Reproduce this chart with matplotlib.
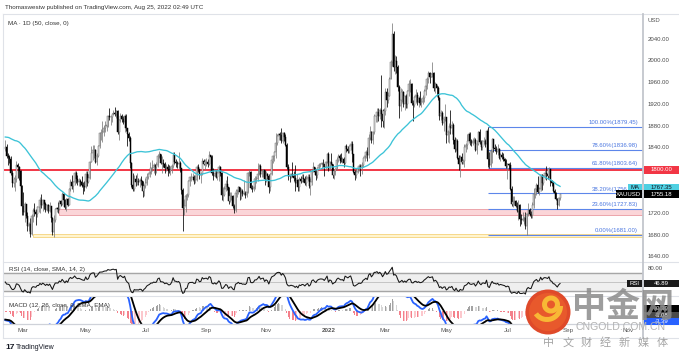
import numpy as np
import pandas as pd
import matplotlib
matplotlib.use("Agg")
import matplotlib.pyplot as plt
from matplotlib import transforms
from matplotlib.patches import Rectangle, Circle, Wedge

plt.rcParams['font.family'] = ['Liberation Sans', 'DejaVu Sans']
CJK = ['Noto Sans CJK SC', 'DejaVu Sans']

# ---------------------------------------------------------------- data
# daily closes before the visible window (Dec 1 2020 - Feb 9 2021), used only to seed the indicators
warmup_close = [1815, 1831, 1841, 1839, 1863, 1871, 1838, 1837, 1839, 1828, 1855, 1864, 1886, 1881, 1871, 1859,
                1874, 1877, 1877, 1876, 1878, 1893, 1895,
                1895, 1944, 1950, 1918, 1913, 1850, 1844, 1855, 1846, 1851, 1828, 1840, 1840, 1871, 1870, 1856,
                1856, 1850, 1843, 1843, 1848,
                1862, 1837, 1835, 1793, 1814, 1833, 1838]

first_day = '2021-02-10'   # first visible daily bar (XAUUSD, business days)

close_2021 = [
    1842, 1825, 1824, 1819, 1795, 1775, 1775, 1784, 1809, 1806, 1797, 1770, 1734,
    1723, 1737, 1715, 1697, 1700, 1683, 1716, 1726, 1722, 1719, 1731, 1731, 1745, 1735, 1745, 1738, 1727, 1735, 1725, 1733, 1712, 1685, 1708,
    1728, 1729, 1728, 1743, 1737, 1756, 1744, 1732, 1746, 1736, 1764, 1777, 1770, 1778, 1794, 1783, 1777, 1780, 1777, 1773, 1770, 1769,
    1792, 1778, 1785, 1815, 1831, 1836, 1837, 1815, 1826, 1843, 1867, 1868, 1869, 1877, 1881, 1881, 1898, 1896, 1896, 1903, 1905,
    1903, 1908, 1870, 1891, 1898, 1893, 1888, 1898, 1877, 1866, 1859, 1812, 1773, 1764, 1783, 1778, 1779, 1777, 1781, 1779, 1761, 1770,
    1776, 1787, 1792, 1796, 1803, 1803, 1808, 1806, 1808, 1825, 1829, 1812, 1812, 1810, 1803, 1806, 1802, 1797, 1799, 1807, 1828, 1814,
    1813, 1810, 1812, 1804, 1763, 1729, 1733, 1752, 1753, 1779, 1786, 1786, 1787, 1781, 1781, 1805, 1802, 1791, 1793, 1817, 1810, 1814,
    1815, 1810, 1827, 1823, 1794, 1789, 1795, 1787, 1794, 1805, 1794, 1754, 1754, 1764, 1774, 1768, 1743, 1751, 1751, 1734, 1726, 1757,
    1761, 1769, 1760, 1762, 1756, 1757, 1754, 1760, 1794, 1796, 1767, 1765, 1769, 1783, 1783, 1792, 1807, 1793, 1798, 1800, 1783,
    1793, 1788, 1769, 1792, 1818, 1825, 1832, 1849, 1862, 1865, 1864, 1852, 1868, 1860, 1846, 1805, 1789, 1788, 1792, 1788, 1785, 1775,
    1781, 1768, 1783, 1779, 1785, 1783, 1775, 1783, 1787, 1771, 1777, 1799, 1805, 1796, 1790, 1803, 1808, 1811, 1811, 1810, 1805, 1815, 1829]
high_2021 = [
    1855, 1848, 1830, 1828, 1825, 1800, 1787, 1790, 1816, 1813, 1807, 1799, 1773,
    1760, 1740, 1738, 1723, 1704, 1712, 1719, 1730, 1739, 1728, 1734, 1740, 1750, 1755, 1747, 1744, 1741, 1738, 1738, 1740, 1733, 1714, 1717,
    1730, 1732, 1740, 1745, 1744, 1759, 1757, 1746, 1748, 1748, 1766, 1784, 1790, 1780, 1797, 1798, 1790, 1785, 1784, 1788, 1778, 1780,
    1798, 1798, 1793, 1817, 1843, 1845, 1845, 1839, 1830, 1845, 1869, 1875, 1890, 1882, 1890, 1887, 1900, 1913, 1900, 1905, 1909,
    1916, 1910, 1910, 1894, 1904, 1903, 1898, 1903, 1903, 1877, 1870, 1862, 1815, 1795, 1790, 1790, 1795, 1785, 1785, 1788, 1780, 1774,
    1785, 1795, 1795, 1815, 1806, 1818, 1813, 1810, 1815, 1829, 1834, 1829, 1825, 1820, 1815, 1811, 1810, 1808, 1807, 1810, 1832, 1833,
    1820, 1816, 1832, 1816, 1804, 1766, 1746, 1755, 1757, 1782, 1789, 1795, 1794, 1791, 1790, 1808, 1810, 1802, 1796, 1821, 1820, 1820,
    1822, 1819, 1834, 1828, 1827, 1803, 1801, 1800, 1798, 1809, 1807, 1796, 1769, 1770, 1781, 1788, 1768, 1760, 1759, 1754, 1738, 1764,
    1764, 1770, 1769, 1767, 1765, 1781, 1762, 1771, 1796, 1801, 1797, 1772, 1785, 1788, 1789, 1813, 1810, 1810, 1801, 1802, 1800,
    1797, 1795, 1793, 1795, 1818, 1828, 1834, 1868, 1865, 1868, 1870, 1877, 1870, 1869, 1866, 1849, 1811, 1793, 1794, 1815, 1798, 1808,
    1792, 1784, 1786, 1788, 1793, 1793, 1789, 1790, 1792, 1793, 1785, 1800, 1814, 1806, 1800, 1805, 1812, 1813, 1815, 1819, 1811, 1817, 1830]
low_2021 = [
    1834, 1822, 1808, 1812, 1790, 1769, 1768, 1761, 1777, 1785, 1782, 1765, 1717,
    1717, 1705, 1711, 1687, 1687, 1677, 1681, 1705, 1716, 1699, 1713, 1722, 1720, 1730, 1724, 1728, 1723, 1725, 1721, 1722, 1705, 1680, 1677,
    1704, 1722, 1720, 1726, 1733, 1736, 1732, 1728, 1725, 1733, 1736, 1762, 1764, 1760, 1773, 1775, 1773, 1770, 1770, 1768, 1756, 1762,
    1767, 1771, 1776, 1783, 1814, 1818, 1822, 1812, 1808, 1823, 1840, 1855, 1851, 1862, 1870, 1872, 1878, 1891, 1883, 1888, 1900,
    1899, 1895, 1866, 1855, 1888, 1887, 1884, 1869, 1872, 1844, 1853, 1803, 1768, 1761, 1761, 1771, 1773, 1772, 1768, 1773, 1750, 1751,
    1767, 1773, 1783, 1786, 1792, 1797, 1795, 1791, 1794, 1806, 1822, 1810, 1795, 1806, 1795, 1797, 1789, 1795, 1791, 1795, 1803, 1810,
    1806, 1804, 1801, 1796, 1755, 1687, 1717, 1723, 1745, 1750, 1770, 1779, 1780, 1774, 1776, 1780, 1796, 1784, 1776, 1790, 1808, 1800,
    1807, 1806, 1809, 1818, 1791, 1782, 1787, 1785, 1782, 1780, 1788, 1745, 1742, 1752, 1762, 1763, 1738, 1740, 1745, 1730, 1721, 1722,
    1750, 1755, 1745, 1746, 1752, 1753, 1748, 1750, 1757, 1789, 1765, 1760, 1762, 1765, 1776, 1780, 1790, 1787, 1787, 1786, 1772,
    1778, 1784, 1758, 1762, 1790, 1812, 1817, 1822, 1846, 1855, 1855, 1850, 1849, 1852, 1843, 1802, 1782, 1778, 1785, 1786, 1779, 1761,
    1770, 1762, 1762, 1775, 1777, 1777, 1772, 1770, 1780, 1767, 1753, 1773, 1796, 1790, 1782, 1785, 1801, 1805, 1804, 1805, 1789, 1800, 1812]

close_2022 = [
    1801, 1814, 1810, 1791, 1797, 1801, 1818, 1826, 1821, 1817, 1819, 1813, 1843, 1839, 1835, 1843, 1848, 1829, 1796, 1791, 1796,
    1801, 1807, 1805, 1808, 1821, 1826, 1833, 1827, 1859, 1870, 1855, 1870, 1898, 1898, 1906, 1898, 1910, 1903, 1889, 1908,
    1943, 1928, 1936, 1966, 1998, 2050, 1989, 2000, 1988, 1952, 1917, 1928, 1943, 1921, 1936, 1921, 1944, 1958, 1958, 1923, 1919, 1933, 1937,
    1925, 1932, 1923, 1925, 1931, 1945, 1954, 1966, 1977, 1971, 1975, 1978, 1950, 1958, 1951, 1931, 1898, 1904, 1886, 1894, 1896,
    1863, 1869, 1881, 1877, 1883, 1854, 1838, 1853, 1822, 1811, 1824, 1815, 1816, 1842, 1846, 1853, 1866, 1853, 1850, 1853, 1855, 1837,
    1848, 1869, 1851, 1841, 1852, 1853, 1848, 1871, 1819, 1808, 1834, 1857, 1840, 1839, 1832, 1838, 1822, 1827, 1823, 1820, 1817, 1807,
    1811, 1808, 1764, 1737, 1740, 1742, 1733, 1725, 1735, 1710, 1708, 1709, 1711, 1696, 1719, 1727, 1719, 1717, 1735, 1756, 1765,
    1772, 1760, 1765, 1791, 1775, 1789, 1794, 1792, 1789, 1802, 1779, 1776, 1761, 1758, 1747, 1736, 1748, 1755.18]
high_2022 = [
    1832, 1816, 1830, 1811, 1800, 1804, 1823, 1829, 1829, 1830, 1823, 1823, 1844, 1847, 1843, 1846, 1853, 1853, 1829, 1800, 1801,
    1807, 1810, 1811, 1815, 1823, 1829, 1836, 1842, 1865, 1880, 1872, 1872, 1902, 1902, 1913, 1914, 1913, 1974, 1912, 1914,
    1950, 1950, 1942, 1971, 2002, 2070, 2055, 2010, 2008, 1992, 1955, 1950, 1949, 1944, 1938, 1939, 1947, 1965, 1966, 1960, 1929, 1936, 1949,
    1942, 1936, 1944, 1932, 1938, 1948, 1960, 1970, 1981, 1979, 1978, 1998, 1980, 1961, 1956, 1953, 1933, 1910, 1908, 1896, 1920,
    1896, 1873, 1885, 1909, 1889, 1885, 1860, 1859, 1857, 1828, 1827, 1831, 1820, 1847, 1849, 1866, 1869, 1869, 1857, 1858, 1860, 1859,
    1854, 1872, 1874, 1855, 1855, 1860, 1857, 1875, 1879.45, 1832, 1838, 1858, 1857, 1847, 1843, 1847, 1840, 1830, 1832, 1831, 1822, 1819,
    1813, 1812, 1815, 1770, 1752, 1752, 1745, 1740, 1745, 1737, 1718, 1723, 1716, 1722, 1720, 1739, 1729, 1724, 1740, 1767, 1767,
    1776, 1788, 1768, 1792, 1792, 1791, 1800, 1807, 1802, 1805, 1800, 1781, 1780, 1765, 1759, 1749, 1750, 1756]
low_2022 = [
    1798, 1799, 1808, 1785, 1783, 1790, 1799, 1815, 1812, 1814, 1813, 1805, 1810, 1833, 1831, 1830, 1836, 1815, 1794, 1781, 1785,
    1795, 1798, 1789, 1792, 1806, 1816, 1822, 1816, 1822, 1855, 1850, 1848, 1866, 1887, 1888, 1890, 1893, 1878, 1878, 1877,
    1900, 1916, 1922, 1935, 1966, 1990, 1982, 1975, 1977, 1945, 1895, 1907, 1924, 1916, 1909, 1914, 1914, 1936, 1942, 1919, 1890, 1916, 1922,
    1918, 1916, 1918, 1915, 1920, 1925, 1937, 1948, 1960, 1959, 1970, 1970, 1945, 1941, 1936, 1929, 1892, 1891, 1882, 1872, 1889,
    1850, 1851, 1850, 1866, 1865, 1848, 1832, 1835, 1820, 1800, 1787, 1811, 1810, 1806, 1833, 1838, 1849, 1845, 1843, 1845, 1850, 1834,
    1829, 1845, 1848, 1837, 1837, 1846, 1842, 1825, 1805, 1804, 1806, 1812, 1833, 1834, 1829, 1827, 1820, 1816, 1820, 1817, 1812, 1803,
    1784, 1801, 1763, 1733, 1732, 1735, 1731, 1722, 1707, 1697, 1700, 1706, 1701, 1692, 1681, 1715, 1716, 1711, 1711, 1730, 1748,
    1754, 1758, 1754, 1761, 1763, 1772, 1784, 1782, 1784, 1785, 1771, 1771, 1759, 1753, 1745, 1728, 1734, 1744]

# indicator read-outs shown on the scale boxes
ma_readout = 1767.35
rsi_readout = 46.89

# drawings
red_level = 1800.0
pink_zone = (1716.5, 1727.5)
pink_start = '2021-04-06'
yellow_zone = (1676.5, 1681.5)
yellow_start = '2021-03-10'
fib_search_from = '2022-06-01'
fib_ratios = [1.0, 0.786, 0.618, 0.382, 0.236, 0.0]

tick_months = ['2021-03', '2021-05', '2021-07', '2021-09', '2021-11', '2022-01',
               '2022-03', '2022-05', '2022-07', '2022-09', '2022-11']
tick_labels = ['Mar', 'May', 'Jul', 'Sep', 'Nov', '2022', 'Mar', 'May', 'Jul', 'Sep', 'Nov']
price_ticks = [2040, 2000, 1960, 1920, 1880, 1840, 1720, 1680, 1640]

# ---------------------------------------------------------------- derived series
close = np.array(close_2021 + close_2022, float)
high = np.array(high_2021 + high_2022, float)
low = np.array(low_2021 + low_2022, float)
n = len(close)
dates = pd.bdate_range(first_day, periods=n)
x = np.arange(n)
nw = len(warmup_close)
allc = pd.Series(list(map(float, warmup_close)) + list(close))
ma = allc.rolling(50).mean().values[nw:]
d = allc.diff()
g = d.clip(lower=0).ewm(alpha=1 / 14, adjust=False).mean()
l_ = (-d.clip(upper=0)).ewm(alpha=1 / 14, adjust=False).mean()
rsi = (100 - 100 / (1 + g / l_)).values[nw:]
macd_s = allc.ewm(span=12, adjust=False).mean() - allc.ewm(span=26, adjust=False).mean()
sig_s = macd_s.ewm(span=9, adjust=False).mean()
macd = macd_s.values[nw:]
sig = sig_s.values[nw:]
hist = macd - sig
opens = np.r_[float(warmup_close[-1]), close[:-1]]

ext_dates = pd.bdate_range(first_day, '2022-12-31')
def idx_of(day):
    return int(np.searchsorted(ext_dates.values, np.datetime64(pd.Timestamp(day))))

# ---------------------------------------------------------------- layout (pixels)
W, H = 679, 357
fig = plt.figure(figsize=(W / 100, H / 100), dpi=100)
fig.patch.set_facecolor('white')

def px_axes(x0, y0, x1, y1):
    a = fig.add_axes([x0 / W, 1 - y1 / H, (x1 - x0) / W, (y1 - y0) / H])
    a.set_axis_off()
    return a

i_mar = idx_of('2021-03-01')
bar_px = 1.387
xl = i_mar - (23.3 - 3) / bar_px
xr = i_mar + (643 - 23.3) / bar_px

# price pane
ax = px_axes(3, 14, 643, 262)
ax.set_xlim(xl, xr)
ax.set_ylim(1630.8, 2085.9)

ps = idx_of(pink_start)
ax.add_patch(Rectangle((ps, pink_zone[0]), xr - ps, pink_zone[1] - pink_zone[0],
                       fc='#fbd5d8', ec='#eca4aa', lw=0.7, zorder=1))
ys = idx_of(yellow_start)
ax.add_patch(Rectangle((ys, yellow_zone[0]), xr - ys, yellow_zone[1] - yellow_zone[0],
                       fc='#fff4cf', ec='#f6d98c', lw=0.7, zorder=1))
ax.axhline(red_level, color='#f23645', lw=1.4, zorder=2)

i0 = idx_of(fib_search_from)
i_hi = i0 + int(np.argmax(high[i0:]))
i_lo = i_hi + int(np.argmin(low[i_hi:]))
fib_hi, fib_lo = high[i_hi], low[i_lo]
fib_levels = [fib_lo + r * (fib_hi - fib_lo) for r in fib_ratios]
ax.hlines(fib_levels, i_hi, xr, colors='#5d86ea', lw=0.8, zorder=2)

up = close >= opens
ax.vlines(x, low, high, colors=np.where(up, '#7c7c7c', '#000000'), lw=0.55, zorder=3)
ax.bar(x, np.maximum(np.abs(close - opens), 0.8), bottom=np.minimum(opens, close), width=0.72,
       color=np.where(up, '#ffffff', '#000000'), edgecolor=np.where(up, '#6a6a6a', '#000000'),
       linewidth=0.35, zorder=4)
ax.plot(x, ma, color='#3cc3d7', lw=0.95, zorder=5)

# RSI pane
ar = px_axes(3, 262, 643, 296)
ar.set_xlim(xl, xr)
ar.set_ylim(19.9, 93.0)
ar.axhspan(30, 70, color='#efefef', zorder=0)
for lv, c, w in [(70, '#a6a6a6', 1.0), (30, '#a6a6a6', 1.0), (50, '#bdbdbd', 0.6)]:
    ar.axhline(lv, color=c, lw=w, zorder=1)
ar.plot(x, rsi, color='#151515', lw=0.75, zorder=3)

# MACD pane
am = px_axes(3, 296, 643, 323.5)
am.set_xlim(xl, xr)
am.set_ylim(-12.2, 15.3)
prev = np.r_[0.0, hist[:-1]]
hcol = np.where(hist >= 0, np.where(hist >= prev, '#a3a3a3', '#d6d6d6'),
                np.where(hist < prev, '#f4808b', '#fcc8cd'))
am.bar(x, hist, width=0.6, color=hcol, zorder=1)
am.plot(x, macd, color='#2962ff', lw=1.3, zorder=2)
am.plot(x, sig, color='#000000', lw=1.3, zorder=3)

# ---------------------------------------------------------------- overlay (frame, labels, watermark)
ov = fig.add_axes([0, 0, 1, 1])
ov.set_xlim(0, W)
ov.set_ylim(H, 0)
ov.set_axis_off()
ov.patch.set_alpha(0)

frame = '#dfe2e8'
ov.plot([3, W], [14, 14], color=frame, lw=0.8)
ov.plot([3, 3], [14, 338], color=frame, lw=0.8)
ov.plot([3, W], [262, 262], color=frame, lw=0.8)
ov.plot([3, W], [296, 296], color=frame, lw=0.8)
ov.plot([3, W], [323.5, 323.5], color='#cfd2d9', lw=0.9)
ov.plot([3, W], [338, 338], color=frame, lw=0.8)
ov.plot([643, 643], [14, 338], color='#c3c6cd', lw=1.3)

FS = 4.3
ov.text(5, 7.5, 'Thomaswestw published on TradingView.com, Aug 25, 2022 02:49 UTC',
        fontsize=4.5, color='#333333', va='center')
ov.text(8, 23.5, 'MA · 1D (50, close, 0)', fontsize=4.5, color='#333333', va='center')
ov.text(9, 270, 'RSI (14, close, SMA, 14, 2)', fontsize=4.5, color='#333333', va='center')
ov.text(9, 305.5, 'MACD (12, 26, close, 9, EMA, EMA)', fontsize=4.5, color='#333333', va='center')
ov.text(648, 21, 'USD', fontsize=FS, color='#555555', va='center')

bp = transforms.blended_transform_factory(ov.transData, ax.transData)
for p in price_ticks:
    ov.text(648, p, f'{p:.2f}', transform=bp, fontsize=FS, color='#4a4a4a', va='center')
br = transforms.blended_transform_factory(ov.transData, ar.transData)
ov.text(648, 80, '80.00', transform=br, fontsize=FS, color='#4a4a4a', va='center')

for lv, r in zip(fib_levels, fib_ratios):
    ov.text(638, lv + 3.2, f'{r * 100:.2f}%({lv:.2f})', transform=bp, fontsize=FS,
            color='#4a76e0', ha='right', va='bottom', zorder=4)

def tag(axis, yval, x0, x1, text, fc, tc, hpx=7.5, z=6):
    b = transforms.blended_transform_factory(ov.transData, axis.transData)
    lo, hi = axis.get_ylim()
    hd = hpx * (hi - lo) / (axis.get_position().height * H)
    ov.add_patch(Rectangle((x0, yval - hd / 2), x1 - x0, hd, transform=b, fc=fc, ec='none',
                           zorder=z, clip_on=False))
    ov.text((x0 + x1) / 2, yval, text, transform=b, ha='center', va='center', fontsize=FS,
            color=tc, zorder=z + 0.5, clip_on=False)

def tag_px(ypx, x0, x1, text, fc, tc, hpx=6.4, z=6):
    ov.add_patch(Rectangle((x0, ypx - hpx / 2), x1 - x0, hpx, fc=fc, ec='none', zorder=z, clip_on=False))
    ov.text((x0 + x1) / 2, ypx, text, ha='center', va='center', fontsize=FS, color=tc,
            zorder=z + 0.5, clip_on=False)

tag(ax, red_level, 643.5, W, f'{red_level:.2f}', '#f23645', 'white')
tag(ax, ma_readout, 628, 641.5, 'MA', '#4fd0e2', '#131722')
tag(ax, ma_readout, 643.5, W, f'{ma_readout:.2f}', '#4fd0e2', '#131722')
tag(ax, close[-1], 616, 641.5, 'XAUUSD', '#000000', 'white', z=8)
tag(ax, close[-1], 643.5, W, f'{close[-1]:.2f}', '#000000', 'white', z=8)
tag(ar, rsi_readout, 627, 641.5, 'RSI', '#1b1b1b', 'white')
tag(ar, rsi_readout, 643.5, W, f'{rsi_readout:.2f}', '#1b1b1b', 'white')
# MACD read-outs are stacked (TradingView pushes colliding scale labels apart)
tag_px(308.5, 643.5, W, f'{sig[-1]:.2f}', '#000000', 'white')
tag_px(315.2, 643.5, W, f'{hist[-1]:.2f}', '#4a4a4a', 'white')
tag_px(321.6, 643.5, W, f'{macd[-1]:.2f}', '#2962ff', 'white')

bd = transforms.blended_transform_factory(ax.transData, ov.transData)
for m, lab in zip(tick_months, tick_labels):
    ov.text(idx_of(m + '-01'), 330.5, lab, transform=bd, ha='center', va='center', fontsize=4.5,
            color='#555555', fontweight='bold' if lab.isdigit() else 'normal')

ov.text(5, 347.5, '17', fontsize=6, fontweight='bold', color='#131722', va='center')
ov.text(15.5, 347.5, 'TradingView', fontsize=5, color='#131722', va='center')

# watermark
ov.add_patch(Circle((548, 312), 22.5, fc='#df4a2a', ec='none', zorder=20))
ov.add_patch(Circle((548, 312), 19, fc='#e8592c', ec='none', zorder=20))
ov.add_patch(Wedge((551, 304.5), 9, 0, 360, width=5, fc='#f8b835', ec='none', zorder=21))
ov.add_patch(Wedge((547, 306), 16, 0, 145, width=5, fc='#f8b835', ec='none', zorder=21))
ov.text(572, 306, '中金网', fontsize=24.5, family=CJK, color='#8c8c8c', alpha=0.85,
        fontweight='bold', va='center', ha='left', zorder=20)
ov.text(621, 326.5, 'CNGOLD.COM.CN', fontsize=7.6, color='#b3b3b3', va='center', ha='center', zorder=20)
for k, ch in enumerate('中文财经新媒体'):
    ov.text(549 + k * 18.8, 343, ch, fontsize=8, family=CJK, color='#a5a5a5', va='center',
            ha='center', zorder=20)

fig.savefig('out.png', dpi=100, facecolor='white')
